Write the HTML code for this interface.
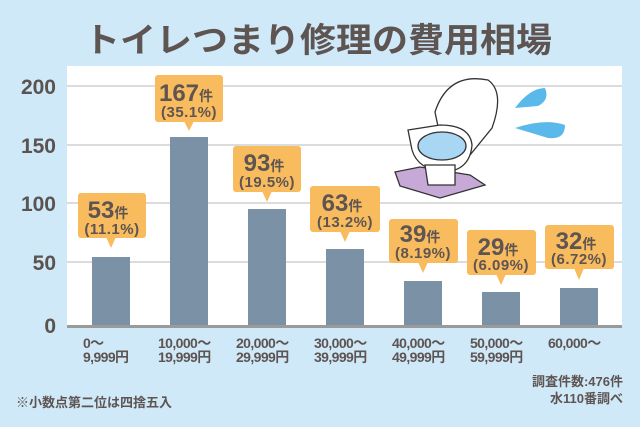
<!DOCTYPE html>
<html><head><meta charset="utf-8"><style>
html,body{margin:0;padding:0;background:#cfe9f8;}
svg{display:block;font-family:"Liberation Sans","Noto Sans CJK JP",sans-serif;}
</style></head><body>
<svg width="640" height="427" viewBox="0 0 640 427" xmlns="http://www.w3.org/2000/svg">
<rect width="640" height="427" fill="#cfe9f8"/>
<text x="318" y="52" text-anchor="middle" font-size="34" font-weight="bold" fill="#5e5452" font-family="Noto Sans CJK JP, sans-serif" textLength="468" lengthAdjust="spacingAndGlyphs">トイレつまり修理の費用相場</text>
<rect x="67" y="66" width="555" height="262" fill="#ffffff"/>
<g stroke="#dcdcdc" stroke-width="2">
<line x1="67" y1="86" x2="622" y2="86"/><line x1="67" y1="145" x2="622" y2="145"/>
<line x1="67" y1="203" x2="622" y2="203"/><line x1="67" y1="262" x2="622" y2="262"/>
</g>
<g font-size="21" font-weight="bold" fill="#5a5350" text-anchor="end">
<text x="56" y="94">200</text><text x="56" y="153">150</text><text x="56" y="211">100</text><text x="56" y="270">50</text><text x="56" y="333">0</text>
</g>
<g fill="#7b91a6">
<rect x="92" y="257" width="38" height="70"/><rect x="170" y="137" width="38" height="190"/>
<rect x="248" y="209" width="38" height="118"/><rect x="326" y="249" width="38" height="78"/>
<rect x="404" y="281" width="38" height="46"/><rect x="482" y="292" width="38" height="35"/>
<rect x="560" y="288" width="38" height="39"/>
</g>
<rect x="67" y="325" width="555" height="3" fill="#9a9a9a"/>
<!-- toilet illustration -->
<g stroke="#333" stroke-width="1.3">
<path d="M445 160 L435 112 Q448 72 488 80 Q505 92 492 128 L470 155 Z" fill="#fff"/>
<path d="M408 130 L440 125 Q470 125 472 145 Q470 170 445 172 Q418 170 412 150 Z" fill="#fff"/>
<ellipse cx="442" cy="146" rx="24" ry="14" fill="#a9d6f2"/>
<path d="M395 172 L420 167 L470 175 L485 185 L440 198 L400 186 Z" fill="#c7a9d8"/>
<path d="M425 165 L455 165 L455 185 L428 185 Z" fill="#fff"/>
</g>
<path d="M515 108 Q530 88 545 88 Q550 100 538 106 Z" fill="#5bb8ea"/>
<path d="M515 128 Q545 118 565 125 Q565 140 548 138 Z" fill="#5bb8ea"/>
<!-- labels -->
<g font-weight="bold" fill="#5e5452" font-family="Liberation Sans, Noto Sans CJK JP, sans-serif">
<g fill="#f8bc5e">
<rect x="78" y="193" width="68" height="45" rx="3"/><path d="M106 237 L111 248 L116 237Z"/>
<rect x="155" y="75" width="68" height="47" rx="3"/><path d="M184 121 L189 131 L194 121Z"/>
<rect x="233" y="146" width="68" height="46" rx="3"/><path d="M262 191 L267 202 L272 191Z"/>
<rect x="310" y="186" width="70" height="46" rx="3"/><path d="M340 231 L345 242 L350 231Z"/>
<rect x="389" y="219" width="69" height="44" rx="3"/><path d="M418 262 L423 273 L428 262Z"/>
<rect x="467" y="230" width="69" height="45" rx="3"/><path d="M496 274 L501 285 L506 274Z"/>
<rect x="545" y="225" width="69" height="44" rx="3"/><path d="M574 268 L579 280 L584 268Z"/>
</g>
<g font-size="24" text-anchor="middle">
<text x="108" y="218">53<tspan font-size="14">件</tspan></text>
<text x="186" y="101">167<tspan font-size="14">件</tspan></text>
<text x="264" y="171">93<tspan font-size="14">件</tspan></text>
<text x="342" y="211">63<tspan font-size="14">件</tspan></text>
<text x="420" y="242">39<tspan font-size="14">件</tspan></text>
<text x="498" y="255">29<tspan font-size="14">件</tspan></text>
<text x="576" y="249">32<tspan font-size="14">件</tspan></text>
</g>
<g font-size="15" text-anchor="middle" font-weight="bold" letter-spacing="0.5">
<text x="112" y="234">(11.1%)</text>
<text x="189" y="117">(35.1%)</text>
<text x="267" y="187">(19.5%)</text>
<text x="345" y="227">(13.2%)</text>
<text x="423" y="258">(8.19%)</text>
<text x="501" y="270">(6.09%)</text>
<text x="579" y="264">(6.72%)</text>
</g>
</g>
<g font-size="14" font-weight="bold" fill="#5e5452" font-family="Liberation Sans, Noto Sans CJK JP, sans-serif" letter-spacing="-0.6">
<text x="83" y="348">0〜</text><text x="83" y="362">9,999円</text>
<text x="158" y="348">10,000〜</text><text x="158" y="362">19,999円</text>
<text x="236" y="348">20,000〜</text><text x="236" y="362">29,999円</text>
<text x="314" y="348">30,000〜</text><text x="314" y="362">39,999円</text>
<text x="392" y="348">40,000〜</text><text x="392" y="362">49,999円</text>
<text x="470" y="348">50,000〜</text><text x="470" y="362">59,999円</text>
<text x="548" y="348">60,000〜</text>
</g>
<g font-size="13" font-weight="bold" fill="#5e5452" font-family="Liberation Sans, Noto Sans CJK JP, sans-serif">
<text x="16" y="407">※小数点第二位は四捨五入</text>
<text x="623" y="386" text-anchor="end">調査件数:476件</text>
<text x="623" y="403" text-anchor="end">水110番調べ</text>
</g>
</svg>
</body></html>
